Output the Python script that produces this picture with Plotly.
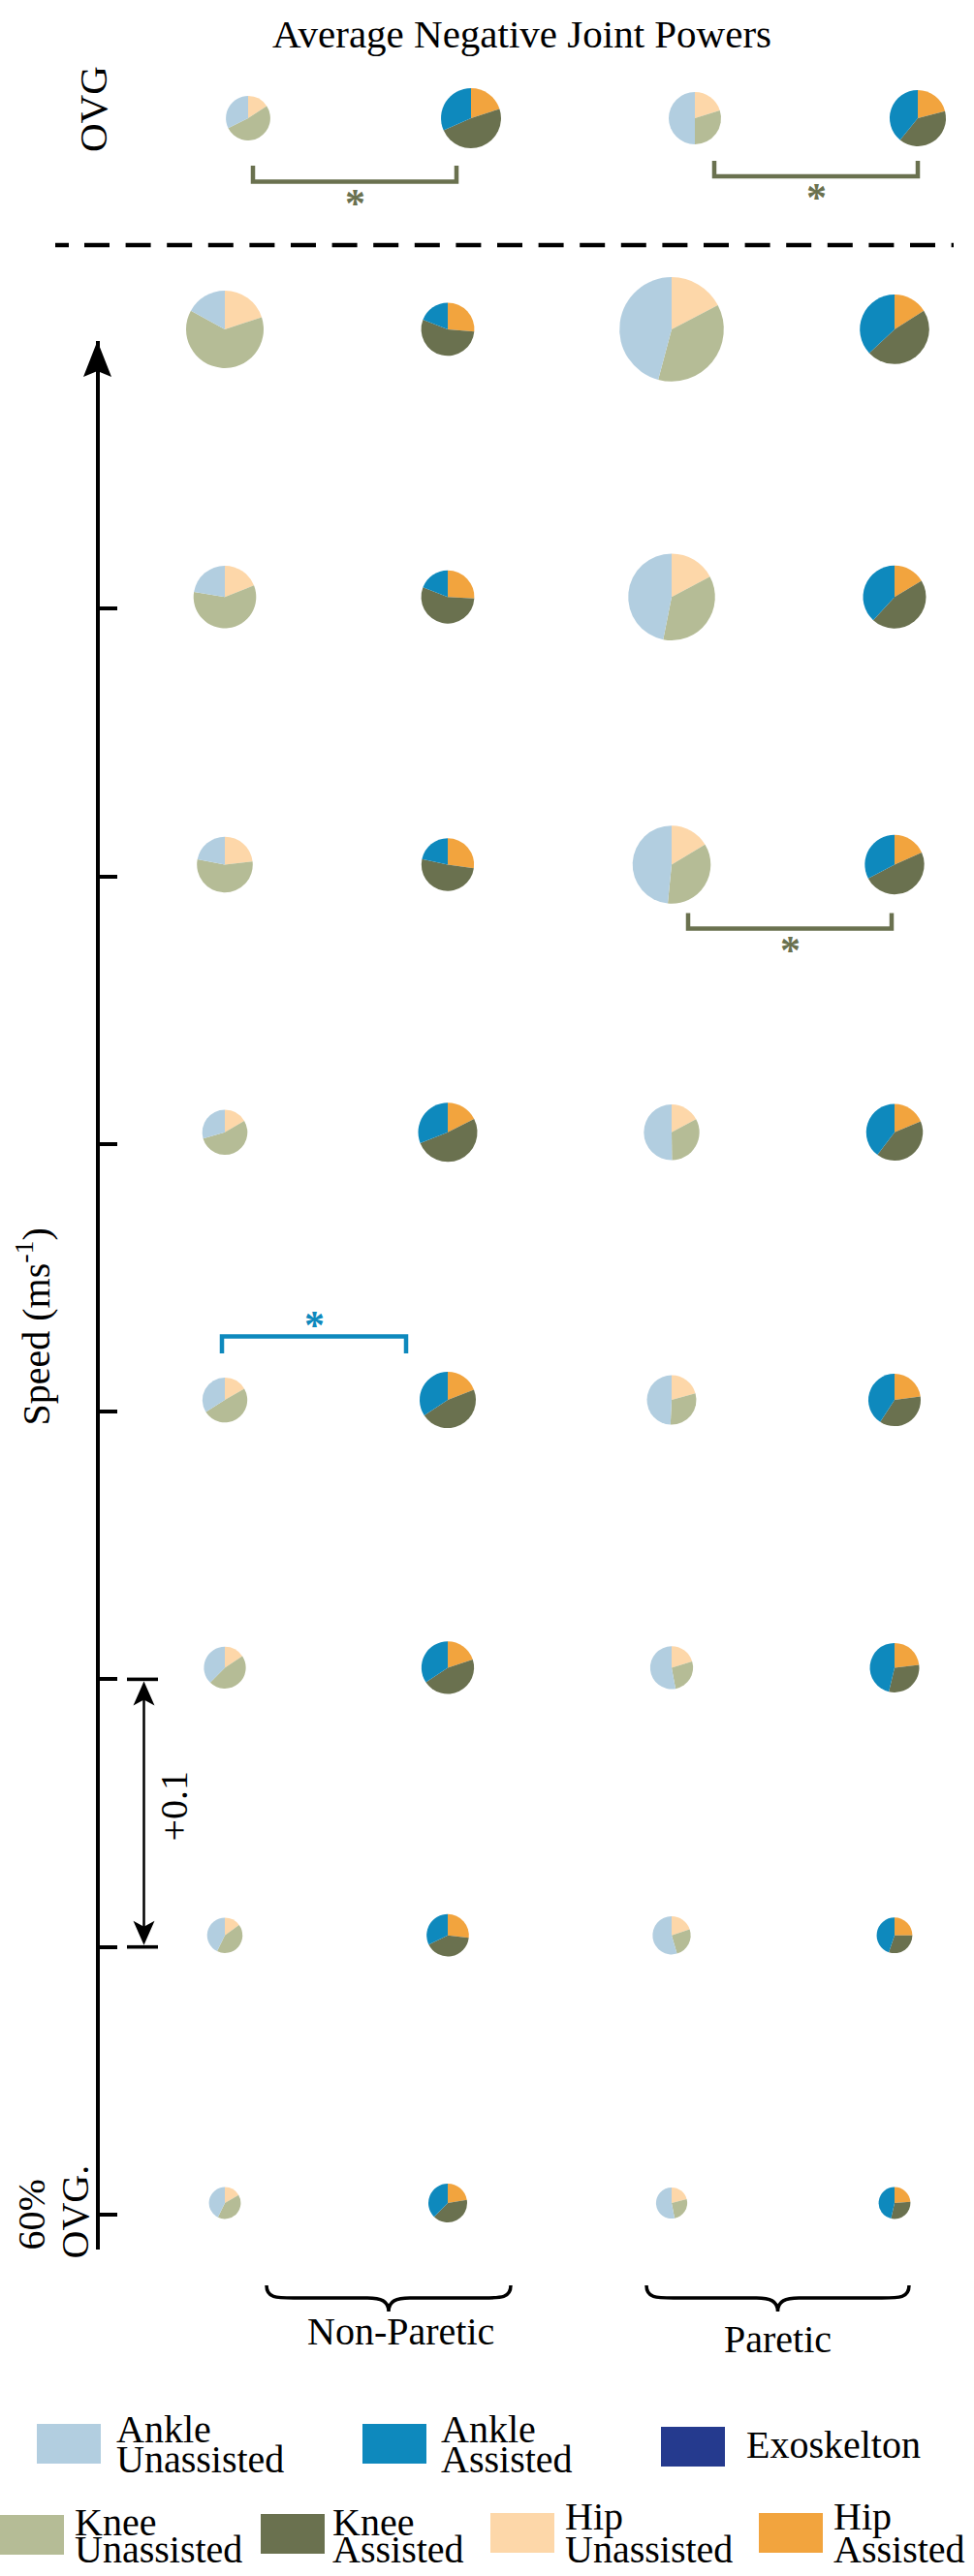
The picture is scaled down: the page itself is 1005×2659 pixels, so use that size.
import numpy as np
import plotly.graph_objects as go

W, H = 1005, 2659
FONT = "Liberation Serif"

# rows: index 0 = 60% of overground speed, each row +0.1 m/s faster, last row = overground (OVG)
ROWS = ["60% OVG", "+0.1", "+0.2", "+0.3", "+0.4", "+0.5", "+0.6", "+0.7", "OVG"]
CONDITIONS = ["Non-Paretic Unassisted", "Non-Paretic Assisted",
              "Paretic Unassisted", "Paretic Assisted"]
SIDES = ["Non-Paretic", "Paretic"]

# average negative joint power per joint (W/kg), same row order as ROWS
np_un_hip = [0.014, 0.0155, 0.023, 0.028, 0.028, 0.060, 0.062, 0.100, 0.026]
np_un_knee = [0.034, 0.044, 0.068, 0.083, 0.092, 0.142, 0.191, 0.315, 0.085]
np_un_ankle = [0.036, 0.0445, 0.055, 0.057, 0.050, 0.057, 0.073, 0.085, 0.053]

np_as_hip = [0.028, 0.040, 0.046, 0.050, 0.051, 0.063, 0.061, 0.062, 0.060]
np_as_knee = [0.050, 0.061, 0.105, 0.123, 0.150, 0.118, 0.129, 0.128, 0.145]
np_as_ankle = [0.047, 0.048, 0.079, 0.090, 0.090, 0.050, 0.045, 0.045, 0.095]

p_un_hip = [0.017, 0.024, 0.031, 0.042, 0.044, 0.083, 0.108, 0.157, 0.046]
p_un_knee = [0.021, 0.031, 0.041, 0.061, 0.084, 0.179, 0.225, 0.333, 0.068]
p_un_ankle = [0.043, 0.066, 0.081, 0.100, 0.129, 0.246, 0.294, 0.415, 0.114]

p_as_hip = [0.020, 0.0265, 0.047, 0.052, 0.050, 0.054, 0.054, 0.064, 0.055]
p_as_knee = [0.025, 0.032, 0.062, 0.083, 0.111, 0.144, 0.150, 0.188, 0.105]
p_as_ankle = [0.039, 0.0475, 0.094, 0.093, 0.106, 0.096, 0.126, 0.148, 0.103]

HIP = [np_un_hip, np_as_hip, p_un_hip, p_as_hip]
KNEE = [np_un_knee, np_as_knee, p_un_knee, p_as_knee]
ANKLE = [np_un_ankle, np_as_ankle, p_un_ankle, p_as_ankle]

# significant differences (unassisted vs assisted): row, side, joint
SIG_ROWS = ["OVG", "OVG", "+0.5", "+0.3"]
SIG_SIDES = ["Non-Paretic", "Paretic", "Paretic", "Non-Paretic"]
SIG_JOINT = ["Knee", "Knee", "Knee", "Ankle"]

LEGEND_LABELS = ["Ankle Unassisted", "Ankle Assisted", "Exoskelton",
                 "Knee Unassisted", "Knee Assisted", "Hip Unassisted", "Hip Assisted"]

COLORS = {
    "Ankle Unassisted": "#b2cee0",
    "Ankle Assisted": "#0e89bd",
    "Exoskelton": "#253a8e",
    "Knee Unassisted": "#b5bc96",
    "Knee Assisted": "#6a714f",
    "Hip Unassisted": "#fdd7a9",
    "Hip Assisted": "#f2a43e",
}

# ---- layout geometry (pixels)
COL_X = [232, 462, 693, 923]
OVG_SHIFT = 24
OVG_Y = 122
TICK0_Y = 2286      # pixel of the 60% OVG tick
STEP = 276.3        # pixels per +0.1 m/s
AXIS_TOP, AXIS_BOTTOM, AXIS_X = 352, 2322, 100.5
PIE_LIFT = 12
R_SCALE = 40 / np.sqrt(0.5)   # radius (px) per sqrt(W/kg)


def speed_px(k):
    return TICK0_Y - STEP * k


def pie_center(c, r):
    if ROWS[r] == "OVG":
        return COL_X[c] + OVG_SHIFT, OVG_Y
    return COL_X[c], speed_px(r) - PIE_LIFT


fig = go.Figure()

for c, cond in enumerate(CONDITIONS):
    kind = "Assisted" if c % 2 else "Unassisted"
    labels = ["Hip " + kind, "Knee " + kind, "Ankle " + kind]
    for r in range(len(ROWS)):
        vals = [HIP[c][r], KNEE[c][r], ANKLE[c][r]]
        rad = R_SCALE * np.sqrt(sum(vals))
        cx, cy = pie_center(c, r)
        fig.add_trace(go.Pie(
            values=vals, labels=labels, sort=False, direction="clockwise", rotation=0,
            marker=dict(colors=[COLORS[l] for l in labels], line=dict(width=0)),
            textinfo="none", hoverinfo="label+value", showlegend=False,
            name=cond + " " + ROWS[r],
            domain=dict(x=[(cx - rad) / W, (cx + rad) / W],
                        y=[(H - cy - rad) / H, (H - cy + rad) / H]),
        ))

# invisible traces so both cartesian subplots exist
fig.add_trace(go.Scatter(x=[0], y=[0], mode="markers", opacity=0, showlegend=False,
                         hoverinfo="skip"))
fig.add_trace(go.Scatter(x=[0], y=[0], yaxis="y2", mode="markers", opacity=0,
                         showlegend=False, hoverinfo="skip"))

fig.update_layout(
    width=W, height=H, margin=dict(l=0, r=0, t=0, b=0),
    paper_bgcolor="white", plot_bgcolor="rgba(0,0,0,0)",
    font=dict(family=FONT, size=40, color="black"),
    xaxis=dict(range=[0, W], visible=False, fixedrange=True),
    yaxis=dict(range=[H, 0], visible=False, fixedrange=True),
    yaxis2=dict(
        domain=[1 - AXIS_BOTTOM / H, 1 - AXIS_TOP / H], anchor="free", position=AXIS_X / W,
        range=[(TICK0_Y - AXIS_BOTTOM) / STEP, (TICK0_Y - AXIS_TOP) / STEP],
        tickvals=list(range(len(ROWS) - 1)), showticklabels=False,
        ticks="inside", ticklen=19, tickwidth=3.6, tickcolor="black",
        showline=True, linewidth=3.8, linecolor="black",
        showgrid=False, zeroline=False, fixedrange=True,
    ),
    showlegend=False,
)

black = dict(color="black", width=0)

# arrow head on the speed axis
fig.add_shape(type="path", xref="x", yref="y", fillcolor="black", line=black,
              path=f"M {AXIS_X} {AXIS_TOP} L {AXIS_X - 14.5} {AXIS_TOP + 37} "
                   f"L {AXIS_X} {AXIS_TOP + 31} L {AXIS_X + 14.5} {AXIS_TOP + 37} Z")

# +0.1 double arrow between two ticks
ax = 148.5
ya, yb = speed_px(2), speed_px(1)
fig.add_shape(type="line", xref="x", yref="y", x0=ax, x1=ax, y0=ya + 10, y1=yb - 10,
              line=dict(color="black", width=2.5))
for yy, sgn in [(ya, 1), (yb, -1)]:
    fig.add_shape(type="line", xref="x", yref="y", x0=131, x1=163, y0=yy, y1=yy,
                  line=dict(color="black", width=3.6))
    fig.add_shape(type="path", xref="x", yref="y", fillcolor="black", line=black,
                  path=f"M {ax} {yy + sgn * 2} L {ax - 11} {yy + sgn * 27} "
                       f"L {ax} {yy + sgn * 21} L {ax + 11} {yy + sgn * 27} Z")
fig.add_annotation(x=180, y=(ya + yb) / 2 - 7, xref="x", yref="y", text="+0.1",
                   textangle=-90, showarrow=False, font=dict(size=40))

# dashed separator between overground and treadmill rows
fig.add_shape(type="line", xref="x", yref="y", x0=57, x1=71, y0=253, y1=253,
              line=dict(color="black", width=4.5))
fig.add_shape(type="line", xref="x", yref="y", x0=87, x1=984, y0=253, y1=253,
              line=dict(color="black", width=4.5, dash="26px,16.6px"))

# significance brackets
for row, side, joint in zip(SIG_ROWS, SIG_SIDES, SIG_JOINT):
    r = ROWS.index(row)
    c0 = SIDES.index(side) * 2
    color = COLORS[joint + " Assisted"]
    xa, ya0 = pie_center(c0, r)
    xb, _ = pie_center(c0 + 1, r)
    if joint == "Knee":
        if row == "OVG":
            x0, x1 = (xa + 5, xb - 15) if side == "Non-Paretic" else (xa + 20, xb)
            top, bar = (171, 187.5) if side == "Non-Paretic" else (166, 182)
        else:
            x0, x1, top, bar = xa + 17, xb - 3, ya0 + 50, ya0 + 66
        star_y = bar + 16
    else:
        x0, x1 = xa - 3, xb - 43
        top, bar = ya0 - 48, ya0 - 65.5
        star_y = bar - 18
    fig.add_shape(type="path", xref="x", yref="y",
                  path=f"M {x0} {top} L {x0} {bar} L {x1} {bar} L {x1} {top}",
                  line=dict(color=color, width=4.5))
    fig.add_annotation(x=(x0 + x1) / 2, y=star_y + 6, xref="x", yref="y", text="<b>*</b>",
                       showarrow=False, font=dict(size=42, color=color))

# braces under the columns
for side, (x0, x1) in zip(SIDES, [(275, 527), (667, 938)]):
    cx = (x0 + x1) / 2
    y0, ym, yt = 2359, 2372, 2386
    fig.add_shape(type="path", xref="x", yref="y", line=dict(color="black", width=3.5),
                  path=f"M {x0} {y0} C {x0} {ym} {x0 + 10} {ym} {x0 + 28} {ym} "
                       f"L {cx - 22} {ym} C {cx - 8} {ym} {cx} {ym + 3} {cx} {yt} "
                       f"C {cx} {ym + 3} {cx + 8} {ym} {cx + 22} {ym} "
                       f"L {x1 - 28} {ym} C {x1 - 10} {ym} {x1} {ym} {x1} {y0}")
fig.add_annotation(x=413, y=2420 - 13.5, xref="x", yref="y", text=SIDES[0], showarrow=False)
fig.add_annotation(x=802, y=2428 - 13.5, xref="x", yref="y", text=SIDES[1], showarrow=False)

# titles and axis labels
fig.add_annotation(x=538, y=49 - 14, xref="x", yref="y", text="Average Negative Joint Powers",
                   showarrow=False, font=dict(size=41))
fig.add_annotation(x=95.5, y=112.5, xref="x", yref="y", text="OVG", textangle=-90,
                   showarrow=False, font=dict(size=41))
fig.add_annotation(x=34.5, y=1370, xref="x", yref="y", text="Speed (ms<sup>-1</sup>)",
                   textangle=-90, showarrow=False)
fig.add_annotation(x=31.5, y=2286, xref="x", yref="y", text="60%", textangle=-90,
                   showarrow=False)
fig.add_annotation(x=76.5, y=2283, xref="x", yref="y", text="OVG.", textangle=-90,
                   showarrow=False)

# legend drawn by hand: swatch x, text x, swatch top, first and second text baselines
LEG_POS = [
    (38, 120, 2502, 2521, 2552),
    (374, 455, 2502, 2521, 2552),
    (682, 770, 2505, 2537, None),
    (0, 77, 2596, 2617, 2645),
    (269, 343, 2595, 2617, 2645),
    (506, 583, 2594, 2611, 2645),
    (783, 860, 2594, 2611, 2645),
]
for label, (sx, tx, sy, b1, b2) in zip(LEGEND_LABELS, LEG_POS):
    fig.add_shape(type="rect", xref="x", yref="y", x0=sx, x1=sx + 66, y0=sy, y1=sy + 41,
                  fillcolor=COLORS[label], line=dict(width=0))
    lines = label.split(" ") if b2 else [label]
    for txt, base in zip(lines, [b1, b2]):
        fig.add_annotation(x=tx - 2, y=base - 13.5, xref="x", yref="y", text=txt,
                           xanchor="left", showarrow=False)

# the page's default body margin would push the figure off the right edge
fig.write_html("out.html", config={"displayModeBar": False}, post_script=[
    "document.body.style.margin='0';document.body.style.overflow='hidden';"])
